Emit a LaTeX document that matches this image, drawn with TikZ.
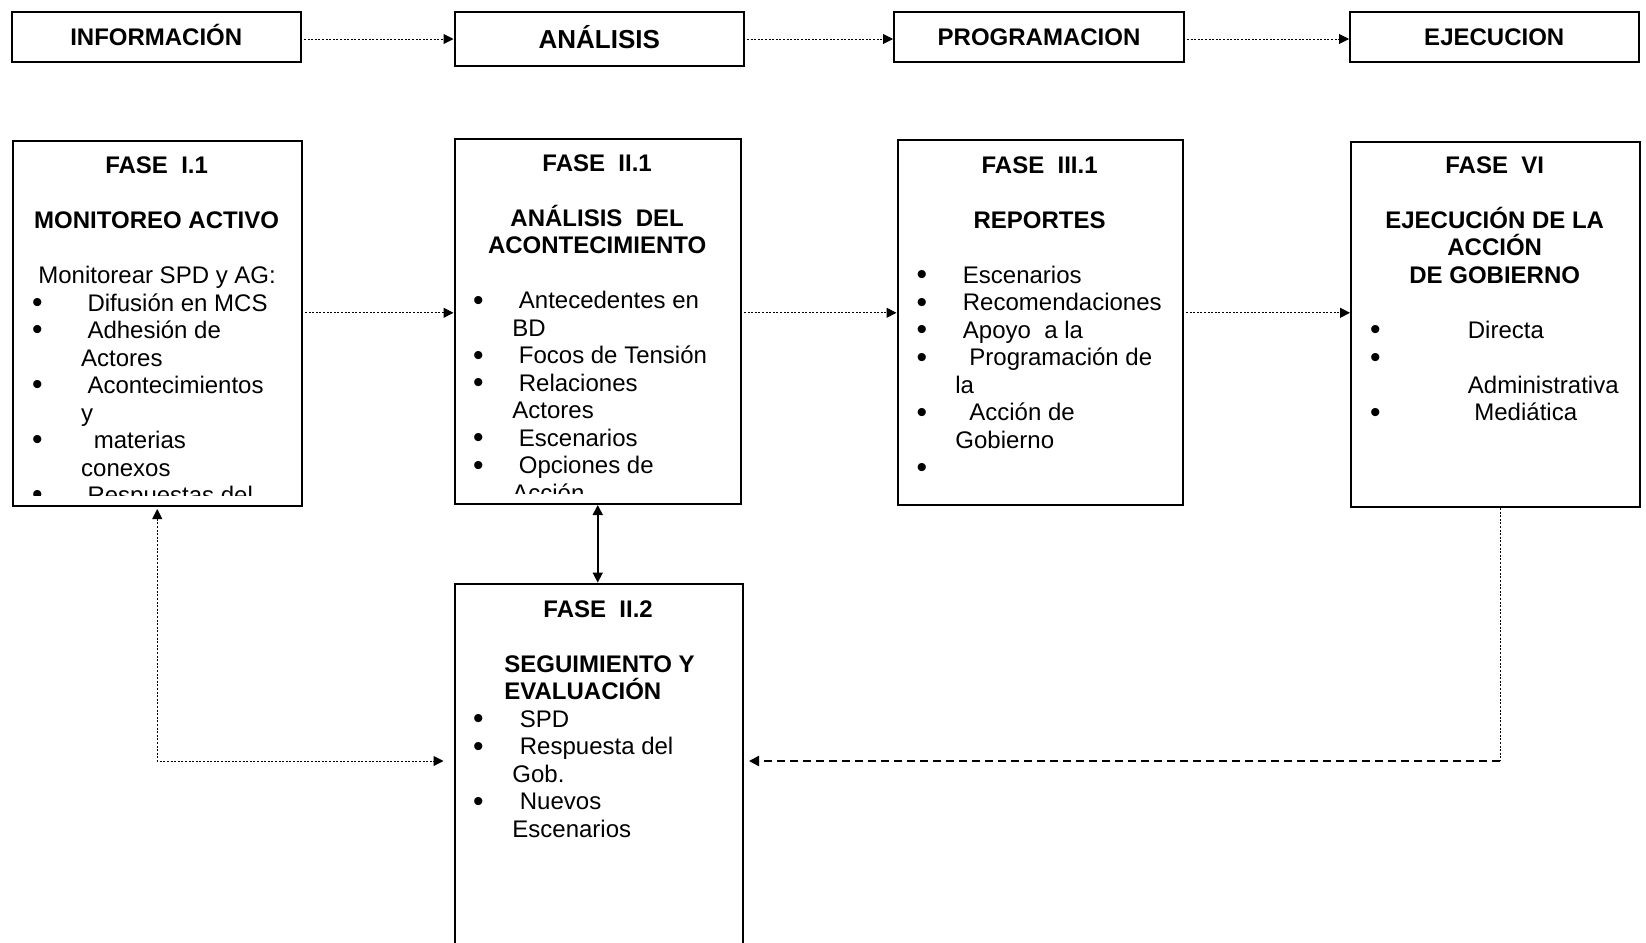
\documentclass[tikz,border=0pt]{standalone}
\usepackage{fontspec}
\setmainfont{Liberation Sans}
\usetikzlibrary{arrows.meta}
\newdimen\pxu \pxu=0.5pt
\newlength\bw
\newcommand\Bul{\raisebox{-0.7pt}{\fontsize{15pt}{15pt}\selectfont•}}
\newcommand\Lc[1]{\hbox to\bw{\hss#1\hss}}
\newcommand\Lt[2]{\hbox to\bw{\hskip#1\pxu\relax#2\hss}}
\newcommand\Lb[3]{\hbox to\bw{\rlap{\hskip#1\pxu\relax\hskip-2.6pt\Bul}\hskip#2\pxu\relax#3\hss}}
\newcommand\Le{\hbox{}}
\newcommand\Vt[1]{\vtop{\baselineskip=13.75pt\lineskip=0pt\lineskiplimit=-\maxdimen#1}}
\begin{document}
\begin{tikzpicture}[x=0.5pt,y=-0.5pt,
  box/.style={draw, line width=1pt, inner sep=0pt, anchor=north west},
  top/.style={box, font=\bfseries\fontsize{12pt}{14pt}\selectfont, text height=8.6pt, text depth=0pt, minimum height=25.25pt},
  txt/.style={inner sep=0pt, anchor=base west, font=\fontsize{12pt}{13.75pt}\selectfont},
  dotl/.style={line width=0.5pt, dash pattern=on 1pt off 0.8pt},
  tp/.tip={Triangle[length=5pt,width=5pt]}
]
\clip (0,0) rectangle (1646,943);
\fill[white] (0,0) rectangle (1646,943);

% top row
\node[top, minimum width=144.75pt] (info) at (10.5,10.5) {INFORMACIÓN};
\node[top, minimum width=144.75pt, minimum height=27.25pt, font=\bfseries\fontsize{13pt}{15pt}\selectfont, text height=9.3pt] (anal) at (453.5,10.5) {ANÁLISIS};
\node[top, minimum width=145pt] (prog) at (893,10.5) {PROGRAMACION};
\node[top, minimum width=144.25pt] (ejec) at (1349,10.5) {EJECUCION};

% phase boxes
\node[box, minimum width=144.75pt, minimum height=182.7pt] (f11) at (11.5,139.6) {};
\node[box, minimum width=143.25pt, minimum height=182.75pt] (f21) at (453.5,137.5) {};
\node[box, minimum width=142.75pt, minimum height=182.7pt] (f31) at (896.5,138.6) {};
\node[box, minimum width=144.3pt, minimum height=182.65pt] (f6) at (1350,140.7) {};
\node[box, minimum width=144.25pt, minimum height=210pt] (f22) at (453.5,582.6) {};

% texts
\begin{scope}
\clip (f11.north west) rectangle ([yshift=6pt]f11.south east);
\node[txt] (t11) at (11.5,173.5) {\bw=144.75pt\Vt{%
\Lc{\bfseries FASE\ \ I.1}
\Le
\Lc{\bfseries MONITOREO ACTIVO}
\Le
\Lt{26.5}{Monitorear SPD y AG:}
\Lb{25.5}{75.6}{Difusión en MCS}
\Lb{25.5}{75.6}{Adhesión de}
\Lt{69.3}{Actores}
\Lb{25.5}{75.6}{Acontecimientos}
\Lt{69.3}{y}
\Lb{25.5}{82}{materias}
\Lt{69.3}{conexos}
\Lb{25.5}{75.6}{Respuestas del}}};
\end{scope}

\begin{scope}
\clip (f21.north west) rectangle ([yshift=6pt]f21.south east);
\node[txt] (t21) at (453.5,171.2) {\bw=143.25pt\Vt{%
\Lc{\bfseries FASE\ \ II.1}
\Le
\Lc{\bfseries ANÁLISIS\ \ DEL}
\Lc{\bfseries ACONTECIMIENTO}
\Le
\Lb{24.5}{65}{Antecedentes en}
\Lt{58.5}{BD}
\Lb{24.5}{65}{Focos de Tensión}
\Lb{24.5}{65}{Relaciones}
\Lt{58.5}{Actores}
\Lb{24.5}{65}{Escenarios}
\Lb{24.5}{65}{Opciones de}
\Lt{58.5}{Acción}}};
\end{scope}

\node[txt] (t31) at (896.5,173.3) {\bw=142.75pt\Vt{%
\Lc{\bfseries FASE\ \ III.1}
\Le
\Lc{\bfseries REPORTES}
\Le
\Lb{25}{66}{Escenarios}
\Lb{25}{66}{Recomendaciones}
\Lb{25}{66}{Apoyo\ \ a la}
\Lb{25}{72.5}{Programación de}
\Lt{58.5}{la}
\Lb{25}{72.5}{Acción de}
\Lt{58.5}{Gobierno}
\Lb{25}{0}{}}};

\node[txt] (t6) at (1350,173.3) {\bw=144.3pt\Vt{%
\Lc{\bfseries FASE\ \ VI}
\Le
\Lc{\bfseries EJECUCIÓN DE LA}
\Lc{\bfseries ACCIÓN}
\Lc{\bfseries DE GOBIERNO}
\Le
\Lb{25}{117.5}{Directa}
\Lb{25}{0}{}
\Lt{117.5}{Administrativa}
\Lb{25}{124}{Mediática}}};

\node[txt] (t22) at (453.5,617.3) {\bw=144.25pt\Vt{%
\Lc{\bfseries FASE\ \ II.2}
\Le
\Lt{50.5}{\bfseries SEGUIMIENTO Y}
\Lt{50.5}{\bfseries EVALUACIÓN}
\Lb{24.5}{66}{SPD}
\Lb{24.5}{66}{Respuesta del}
\Lt{58.5}{Gob.}
\Lb{24.5}{66}{Nuevos}
\Lt{58.5}{Escenarios}}};

% connectors
\coordinate (ty) at (0,39);
\coordinate (my) at (0,312.8);
\coordinate (ly) at (0,761);
\draw[dotl, -tp, shorten <=1pt] (info.east |- ty) -- (anal.west |- ty);
\draw[dotl, -tp, shorten <=1pt] (anal.east |- ty) -- (prog.west |- ty);
\draw[dotl, -tp, shorten <=1pt] (prog.east |- ty) -- (ejec.west |- ty);

\draw[dotl, -tp, shorten <=1pt] (f11.east |- my) -- (f21.west |- my);
\draw[dotl, -tp, shorten <=1pt] (f21.east |- my) -- (f31.west |- my);
\draw[dotl, -tp, shorten <=1pt] (f31.east |- my) -- (f6.west |- my);

\draw[line width=0.8pt, tp-tp] (f21.south) -- (f21.south |- f22.north);

\draw[dotl, tp-tp, shorten <=1pt, shorten >=5pt] (f11.south) |- (f22.west |- ly);

\draw[dotl] ([xshift=2.5pt]f6.south) -- ([xshift=2.5pt]f6.south |- ly) coordinate (rc);
\draw[line width=1.2pt, dash pattern=on 4pt off 2.5pt, -{Triangle[length=5pt,width=5pt]}, shorten >=2.5pt] (rc) -- (f22.east |- ly);
\end{tikzpicture}
\end{document}
